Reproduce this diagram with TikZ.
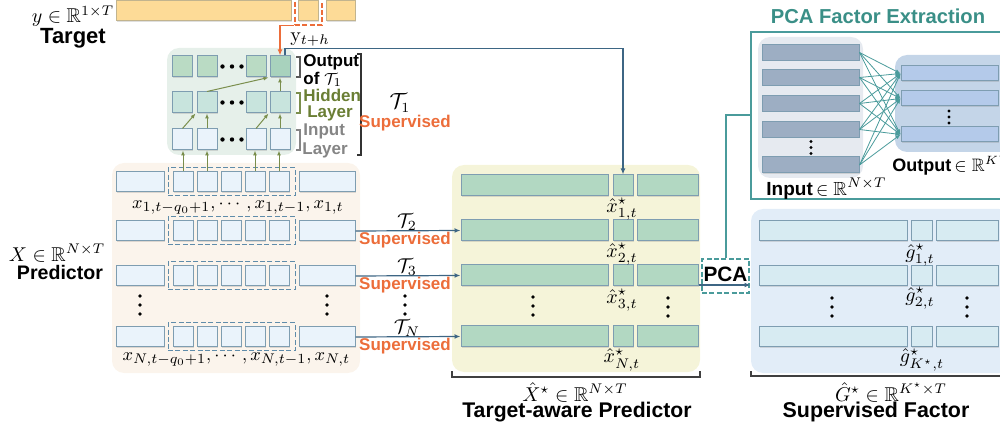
\documentclass[tikz,border=0pt]{standalone}
\usepackage[no-math]{fontspec}
\usepackage{amsmath,amssymb}
\setmainfont{Liberation Sans}
\usetikzlibrary{arrows.meta,shadows,calc}

\definecolor{tgtfill}{HTML}{FDDB97}
\definecolor{tgtdraw}{HTML}{C2B48E}
\definecolor{orng}{HTML}{EC6D3A}
\definecolor{cellblue}{HTML}{EAF3FB}
\definecolor{celldraw}{HTML}{7E9DB1}
\definecolor{netfill}{HTML}{E6F0EA}
\definecolor{outcell}{HTML}{BADBC4}
\definecolor{outcelldk}{HTML}{A8D2BD}
\definecolor{hidcell}{HTML}{C8E4DD}
\definecolor{arrowolive}{HTML}{7A8E4C}
\definecolor{olivetext}{HTML}{6A7E34}
\definecolor{greytext}{HTML}{858585}
\definecolor{predfill}{HTML}{FBF4EC}
\definecolor{winline}{HTML}{5F8CAA}
\definecolor{bline}{HTML}{3D6684}
\definecolor{tafill}{HTML}{F5F4D9}
\definecolor{tacell}{HTML}{B2D8C2}
\definecolor{pcateal}{HTML}{4A9B9B}
\definecolor{tealtext}{HTML}{3A8F87}
\definecolor{pinfill}{HTML}{E6EAF0}
\definecolor{pinbar}{HTML}{9DAEC3}
\definecolor{poutfill}{HTML}{C4D5E8}
\definecolor{poutbar}{HTML}{B4CAEA}
\definecolor{sffill}{HTML}{E2EDF8}
\definecolor{sfcell}{HTML}{D7EBF2}

\tikzset{
  sz/.style 2 args={minimum width=#1*0.5pt, minimum height=#2*0.5pt},
  cell/.style={draw=celldraw, line width=0.5pt, inner sep=0pt,
    drop shadow={shadow xshift=0.3pt, shadow yshift=-0.5pt, opacity=0.25}},
  panel/.style={draw=none, rounded corners=6pt, inner sep=0pt},
  bt/.style={font=\fontsize{#1pt}{#1pt}\selectfont\bfseries, inner sep=0pt},
  mt/.style={font=\fontsize{#1pt}{#1pt}\selectfont, inner sep=0pt},
  win/.style={draw=winline, line width=0.5pt, dash pattern=on 2.5pt off 1.2pt, inner sep=0pt},
  barrow/.style={draw=bline, line width=0.6pt, -{Latex[length=3pt,width=2.4pt]}},
  oarrow/.style={draw=arrowolive, line width=0.5pt, -{Latex[length=2.5pt,width=2pt]}},
  tarrow/.style={draw=pcateal, line width=0.4pt, -{Latex[length=2.5pt,width=2pt]}},
}
\newcommand\vdotsat[2]{\fill (#1,#2-9) circle[radius=0.9pt] (#1,#2) circle[radius=0.9pt] (#1,#2+9) circle[radius=0.9pt];}

\begin{document}
\begin{tikzpicture}[x=0.5pt,y=-0.5pt]
\useasboundingbox (0,0) rectangle (1000,432);
\clip (0,0) rectangle (1000,432);

% ---------- target series ----------
\node[cell, draw=tgtdraw, fill=tgtfill, sz={175}{20}] (ty1) at (203.5,11) {};
\node[cell, draw=tgtdraw, fill=tgtfill, sz={20}{20}] (ty2) at (308,11) {};
\node[cell, draw=tgtdraw, fill=tgtfill, sz={29}{20}] (ty3) at (340.5,11) {};
\node[draw=orng, line width=0.6pt, dash pattern=on 2.5pt off 1.2pt, sz={27}{29}, inner sep=0pt] (ydash) at (308.5,10.5) {};
\node[mt=10] (ylab) at (73,16) {$y\in\mathbb{R}^{1\times T}$};
\node[bt=11] (tlab) at (73,38) {Target};
\node[mt=10] (yth) at (310,40) {$\mathrm{y}_{t+h}$};

% ---------- network T1 ----------
\node[panel, fill=netfill, sz={129}{107}] (net) at (231.5,101.5) {};
\foreach \c/\x in {1/182.5,2/207,3/256,4/280}{
  \node[cell, fill=outcell, sz={20}{21}] (o\c) at (\x,66.5) {};
  \node[cell, fill=hidcell, sz={20}{21}] (h\c) at (\x,102.5) {};
  \node[cell, fill=cellblue, sz={20}{21}] (i\c) at (\x,139.5) {};
}
\node[cell, fill=outcelldk, sz={20}{21}] (o4) at (280,66.5) {};
\foreach \y in {66.5,102.5,139.5}{
  \fill (222.5,\y) circle[radius=1.1pt] (232,\y) circle[radius=1.1pt] (241.5,\y) circle[radius=1.1pt];
}
\draw[oarrow] (i1.north) -- ($(h2.south west)+(-1,0)$);
\draw[oarrow] (i2.north) -- (h2.south);
\draw[oarrow] (i3.north) -- ($(h4.south west)+(-1,0)$);
\draw[oarrow] (i4.north) -- (h4.south);
\draw[oarrow] (h2.north) -- ($(o4.south west)+(-1,0)$);
\draw[oarrow] (h4.north) -- (o4.south);

% layer brackets and labels
\draw[black!65, line width=0.6pt] (296,57) -- (300,57) -- (300,77) -- (296,77);
\draw[arrowolive, line width=0.6pt] (296,93) -- (300,93) -- (300,113) -- (296,113);
\draw[greytext, line width=0.6pt] (296,130) -- (300,130) -- (300,150) -- (296,150);
\draw[black!80, line width=0.6pt] (357,54) -- (361,54) -- (361,155) -- (357,155);
\node[bt=8.5, anchor=west] (lout) at (303,62) {Output};
\node[bt=8.5, anchor=west] (lof) at (303,79) {of $\mathcal{T}_1$};
\node[bt=8.5, anchor=west, text=olivetext] (lhid) at (303,95) {Hidden};
\node[bt=8.5, text=olivetext] (lhl) at (330,113) {Layer};
\node[bt=8.5, anchor=west, text=greytext] (linp) at (303,131) {Input};
\node[bt=8.5, anchor=west, text=greytext] (lil) at (302,150) {Layer};
\node[mt=10.5] (t1) at (400,103) {$\mathcal{T}_1$};
\node[bt=8.5, text=orng] (s1) at (405,123) {Supervised};

% ---------- predictor ----------
\node[panel, fill=predfill, sz={248}{210}] (pred) at (236,268) {};
\foreach \r/\y in {1/182,2/231,3/276,N/337}{
  \node[cell, fill=cellblue, sz={48}{20}] (pl\r) at (140,\y) {};
  \foreach \k/\x in {1/183,2/207,3/231,4/255,5/279}{
    \node[cell, fill=cellblue, sz={20}{20}] (pw\r\k) at (\x,\y) {};
  }
  \node[cell, fill=cellblue, sz={56}{20}] (pr\r) at (327,\y) {};
  \node[win, sz={127}{28}] (win\r) at (231.5,\y) {};
}
\draw[oarrow] (pw11.north) -- (pw11.north |- i1.south);
\draw[oarrow] (pw12.north) -- (pw12.north |- i2.south);
\draw[oarrow] (pw14.north) -- (pw14.north |- i3.south);
\draw[oarrow] (pw15.north) -- (pw15.north |- i4.south);
\vdotsat{140}{305}
\vdotsat{327}{305}
\node[mt=9.4] (x1lab) at (238,207) {$x_{1,t-q_0+1},\cdots,x_{1,t-1},x_{1,t}$};
\node[mt=9.4] (xNlab) at (236.5,359) {$x_{N,t-q_0+1},\cdots,x_{N,t-1},x_{N,t}$};
\node[mt=10] (xlab) at (57,253) {$X\in\mathbb{R}^{N\times T}$};
\node[bt=9.8] (plab) at (60,272) {Predictor};

% ---------- target-aware predictor ----------
\node[panel, fill=tafill, sz={248}{207}] (ta) at (576,268.5) {};
\foreach \r/\y in {1/185.5,2/230.5,3/275.5,N/336.5}{
  \node[cell, fill=tacell, sz={147}{21}] (tl\r) at (534.5,\y) {};
  \node[cell, fill=tacell, sz={20}{21}] (ts\r) at (623,\y) {};
  \node[cell, fill=tacell, sz={61}{21}] (tr\r) at (667.5,\y) {};
}
\vdotsat{533}{306}
\vdotsat{668}{307}
\node[mt=10] (xh1) at (622,209) {$\hat{x}^{\star}_{1,t}$};
\node[mt=10] (xh2) at (622,254) {$\hat{x}^{\star}_{2,t}$};
\node[mt=10] (xh3) at (622,300) {$\hat{x}^{\star}_{3,t}$};
\node[mt=10] (xhN) at (622,360) {$\hat{x}^{\star}_{N,t}$};
\draw[black!75, line width=0.6pt] (452,371) -- (452,377) -- (700,377) -- (700,371);
\node[mt=10] (xhat) at (575,392) {$\hat{X}^{\star}\in\mathbb{R}^{N\times T}$};
\node[bt=10.6] (talab) at (577,412) {Target-aware Predictor};

% supervised links T2..TN
\draw[barrow] (pr2.east) -- (tl2.west);
\draw[barrow] (pr3.east) -- (tl3.west);
\draw[barrow] (prN.east) -- (tlN.west);
\node[mt=10] (t2) at (407,222) {$\mathcal{T}_2$};
\node[bt=8.5, text=orng] (s2) at (405,240) {Supervised};
\node[mt=10] (t3) at (407,267) {$\mathcal{T}_3$};
\node[bt=8.5, text=orng] (s3) at (405,285) {Supervised};
\node[mt=10] (tN) at (407,328) {$\mathcal{T}_N$};
\node[bt=8.5, text=orng] (sN) at (405,346) {Supervised};
\vdotsat{405}{305}

% T1 output to the first target-aware row
\draw[barrow] ($(o4.north)+(5,0)$) -- ($(o4.north)+(5,-7)$) -| (ts1.north);
% target value into the output layer
\draw[draw=orng, line width=0.6pt, -{Latex[length=3pt,width=2.4pt]}] (ydash.south west) -| (o4.north);

% ---------- PCA step ----------
\node[draw=pcateal, line width=0.6pt, dash pattern=on 2.5pt off 1.2pt, sz={47}{34}, inner sep=0pt] (pca) at (725.5,276) {};
\node[bt=10.4] (pcat) at (725.5,274) {PCA};
\coordinate (pcain) at ($(tr3.east)+(0,9.5)$);

% ---------- PCA factor extraction ----------
\node[draw=pcateal, line width=1pt, sz={260}{167}, inner sep=0pt] (pfe) at (881,115.5) {};
\node[bt=10.1, text=tealtext] (pfet) at (878,16) {PCA Factor Extraction};
\draw[pcateal, line width=1pt] (pca.north) |- (pfe.west);
\node[panel, fill=pinfill, sz={105}{141}] (pin) at (810.5,107.5) {};
\node[panel, fill=poutfill, sz={120}{97}] (pout) at (955,103.5) {};
\foreach \i/\y in {1/52.5,2/77.5,3/103.5,4/129.5,5/165}{
  \node[cell, fill=pinbar, sz={97}{16}] (in\i) at (810.5,\y) {};
}
\foreach \j/\y in {1/73.5,2/98.5,3/134.5}{
  \node[cell, fill=poutbar, sz={97}{15}] (ou\j) at (949.5,\y) {};
}
\foreach \i in {1,...,5}{
  \foreach \j in {1,2,3}{
    \draw[tarrow] (in\i.east) -- (ou\j.west);
  }
}
\fill (811,141.5) circle[radius=0.8pt] (811,147.5) circle[radius=0.8pt] (811,153.5) circle[radius=0.8pt];
\fill (949,111) circle[radius=0.8pt] (949,117) circle[radius=0.8pt] (949,123) circle[radius=0.8pt];
\node[anchor=west, inner sep=0pt] (inlab) at (766,189) {\fontsize{9.5pt}{10pt}\selectfont\bfseries Input\,$\in\mathbb{R}^{N\times T}$};
\node[anchor=west, inner sep=0pt] (outlab) at (892,165) {\fontsize{9pt}{10pt}\selectfont\bfseries Output\,$\in\mathbb{R}^{K^{\star}\times T}$};

% ---------- supervised factor ----------
\node[panel, fill=sffill, sz={260}{164}] (sf) at (881,291) {};
\foreach \r/\y in {1/231,2/276,K/337}{
  \node[cell, fill=sfcell, sz={148}{20}] (gl\r) at (833,\y) {};
  \node[cell, fill=sfcell, sz={21}{20}] (gs\r) at (921.5,\y) {};
  \node[cell, fill=sfcell, sz={62}{20}] (gr\r) at (967,\y) {};
}
\vdotsat{832}{307}
\vdotsat{967}{307}
\node[mt=10] (g1) at (920,255) {$\hat{g}^{\star}_{1,t}$};
\node[mt=10] (g2) at (920,298) {$\hat{g}^{\star}_{2,t}$};
\node[mt=10] (gK) at (922,360) {$\hat{g}^{\star}_{K^{\star},t}$};
\draw[black!75, line width=0.6pt] (751,371) -- (751,376) -- (1005,376);
\node[mt=10] (ghat) at (891,392) {$\hat{G}^{\star}\in\mathbb{R}^{K^{\star}\times T}$};
\node[bt=10.7] (sflab) at (876,412) {Supervised Factor};

\draw[barrow] (pcain) -- (pcain -| sf.west);
\end{tikzpicture}
\end{document}
